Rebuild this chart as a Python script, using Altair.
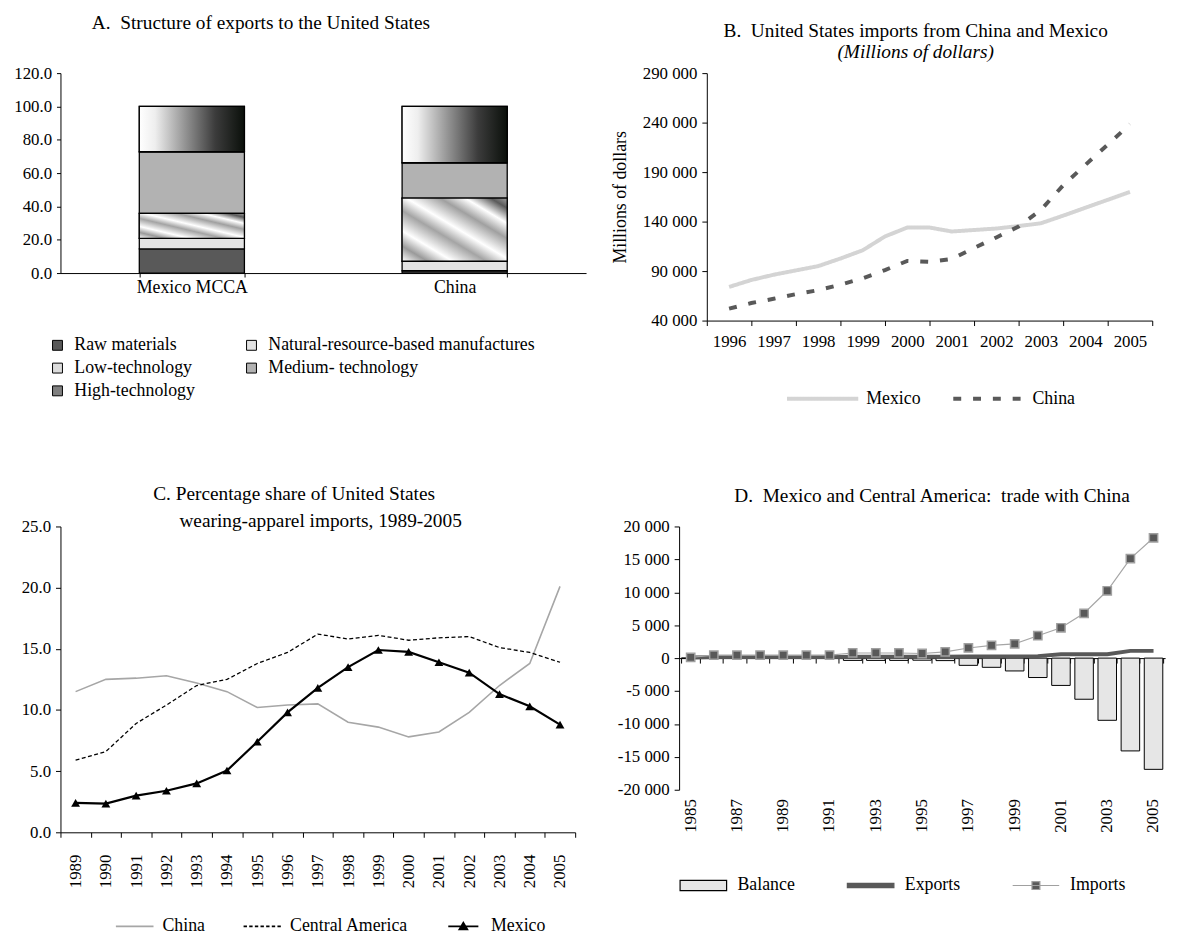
import altair as alt
import pandas as pd

FONT = "Liberation Serif"
BLACK = "#000000"

# ---------------- Panel A data ----------------
a_groups = ["Mexico MCCA", "China"]
a_categories = ["Raw materials", "Natural-resource-based manufactures",
                "Low-technology", "Medium- technology", "High-technology"]
a_mexico = [14.5, 6.3, 15.0, 37.0, 27.2]
a_china = [1.4, 5.7, 37.9, 21.2, 33.8]
a_legend_colors = ["#595959", "#e3e3e3", "#dcdcdc", "#b2b2b2", "#808080"]
a_ticks = [0, 20, 40, 60, 80, 100, 120]

# ---------------- Panel B data ----------------
b_years = [1996, 1996.5, 1997, 1997.5, 1998, 1998.5, 1999, 1999.5, 2000, 2000.5,
           2001, 2001.5, 2002, 2002.5, 2003, 2003.5, 2004, 2004.5, 2005]
b_mexico = [74000, 81000, 86300, 90700, 95000, 102700, 111000, 125000, 134000, 134000,
            130000, 131500, 133000, 135500, 138300, 146000, 154000, 162000, 170000]
b_china = [52000, 57700, 62000, 66700, 70700, 76300, 82700, 91000, 100300, 99300,
           102300, 113300, 124000, 135000, 151700, 176700, 197300, 217700, 238300]
b_series = ["Mexico", "China"]
b_tick_years = list(range(1996, 2007))
b_y_ticks = [40000, 90000, 140000, 190000, 240000, 290000]

# ---------------- Panel C data ----------------
c_years = list(range(1989, 2006))
c_china = [11.5, 12.5, 12.6, 12.8, 12.2, 11.5, 10.2, 10.4, 10.5, 9.0, 8.6, 7.8, 8.2, 9.8, 12.0, 13.8, 20.1]
c_central_america = [5.9, 6.6, 8.9, 10.4, 12.0, 12.5, 13.8, 14.7, 16.2, 15.8, 16.1, 15.7, 15.9, 16.0, 15.1, 14.7, 13.9]
c_mexico = [2.4, 2.35, 3.0, 3.4, 4.0, 5.05, 7.4, 9.8, 11.8, 13.5, 14.9, 14.75, 13.9, 13.05, 11.3, 10.3, 8.8]
c_series = ["China", "Central America", "Mexico"]
c_y_ticks = [0, 5, 10, 15, 20, 25]

# ---------------- Panel D data ----------------
d_years = list(range(1985, 2006))
d_balance = [0, -60, -60, -60, -60, -60, -60, -350, -350, -350, -320, -380,
             -1100, -1400, -1950, -2950, -4150, -6250, -9450, -14100, -16900]
d_exports = [100, 150, 150, 150, 150, 150, 150, 200, 200, 200, 200, 200,
             250, 250, 250, 300, 600, 600, 600, 1100, 1100]
d_imports = [100, 440, 440, 440, 440, 440, 440, 780, 780, 780, 700, 950,
             1540, 1930, 2170, 3400, 4610, 6810, 10230, 15120, 18280]
d_series = ["Balance", "Exports", "Imports"]
d_y_ticks = list(range(-20000, 20001, 5000))

SPACE_FMT = "(datum.value < 0 ? '-' : '') + replace(format(abs(datum.value), ','), ',', ' ')"
TICK_FS = 17
LEG_FS = 18
TITLE_FS = 19.5

INDEP = dict(color="independent", fill="independent", stroke="independent",
             shape="independent", strokeDash="independent")

# ======================= Panel A =======================
A_W, A_H = 531, 202
dfA = pd.DataFrame([
    {"group": g, "category": c, "order": i, "value": v}
    for g, vals in zip(a_groups, [a_mexico, a_china])
    for i, (c, v) in enumerate(zip(a_categories, vals))
])

a_x = alt.X("group:N", sort=a_groups,
            scale=alt.Scale(paddingInner=0.6, paddingOuter=0.3),
            axis=alt.Axis(title=None, labelAngle=0, tickBand="extent", tickSize=4,
                          labelPadding=2, labelFontSize=LEG_FS))
a_y = alt.Y("y0:Q", scale=alt.Scale(domain=[0, 120], nice=False),
            axis=alt.Axis(title=None, values=a_ticks, format=".1f", tickSize=4,
                          labelPadding=5, minExtent=51, labelFontSize=TICK_FS))
a_y2 = alt.Y2("y1:Q")

stacked = alt.Chart(dfA).transform_stack(
    stack="value", groupby=["group"], as_=["y0", "y1"],
    sort=[alt.SortField("order", order="ascending")])

a_base = stacked.mark_bar(stroke=BLACK, strokeWidth=1.3).encode(
    x=a_x, y=a_y, y2=a_y2,
    color=alt.Color("category:N", sort=a_categories,
                    scale=alt.Scale(domain=a_categories, range=a_legend_colors),
                    legend=alt.Legend(title=None, orient="none", legendX=-12, legendY=266,
                                      columns=2, direction="horizontal",
                                      symbolType="square", symbolSize=100,
                                      symbolStrokeColor=BLACK, symbolStrokeWidth=1,
                                      labelFontSize=LEG_FS, rowPadding=5, columnPadding=48,
                                      labelOffset=8, labelLimit=500)))

low_grad = alt.LinearGradient(
    gradient="linear", x1=0, y1=1, x2=1, y2=0,
    stops=[alt.GradientStop(color=c, offset=o) for o, c in [
        (0.0, "#ffffff"), (0.12, "#9a9a9a"), (0.24, "#ffffff"), (0.4, "#a4a4a4"),
        (0.52, "#ffffff"), (0.68, "#a0a0a0"), (0.8, "#ffffff"), (0.92, "#5a5a5a"),
        (1.0, "#a0a0a0")]])
high_grad = alt.LinearGradient(
    gradient="linear", x1=0, y1=0, x2=1, y2=0,
    stops=[alt.GradientStop(color=c, offset=o) for o, c in [
        (0.0, "#ffffff"), (0.15, "#eeeeee"), (0.45, "#8f8f8f"), (0.72, "#3c3c3c"),
        (1.0, "#0a0f0a")]])

a_low = stacked.transform_filter(alt.datum.category == "Low-technology").mark_bar(
    fill=low_grad, stroke=BLACK, strokeWidth=1.3).encode(x=a_x, y=a_y, y2=a_y2)
a_high = stacked.transform_filter(alt.datum.category == "High-technology").mark_bar(
    fill=high_grad, stroke=BLACK, strokeWidth=1.3).encode(x=a_x, y=a_y, y2=a_y2)

panelA = alt.layer(a_base, a_low, a_high).properties(
    width=A_W, height=A_H,
    title=alt.TitleParams(text="A.\u00a0 Structure of exports to the United States",
                          fontSize=TITLE_FS, anchor="middle", frame="group", dx=-63, offset=31))

# ======================= Panel B =======================
B_W, B_H = 450, 250
dfB = pd.DataFrame({
    "year": b_years * 2,
    "value": b_mexico + b_china,
    "series": ["Mexico"] * len(b_years) + ["China"] * len(b_years),
})
legB = alt.Legend(title=None, orient="none", legendX=79, legendY=291, direction="horizontal",
                  symbolType="stroke", symbolSize=5184, symbolStrokeWidth=4,
                  labelFontSize=LEG_FS, columnPadding=25, labelOffset=6, labelLimit=500)
panelB = alt.Chart(dfB).transform_calculate(xpos="datum.year + 0.5").mark_line(strokeWidth=4).encode(
    x=alt.X("xpos:Q", scale=alt.Scale(domain=[1996, 2006], nice=False, zero=False),
            axis=alt.Axis(title=None, values=b_tick_years, format="d",
                          labelExpr="datum.value < 2006 ? datum.label : ''",
                          labelOffset=22.5, labelFlush=False, labelOverlap=False,
                          tickSize=5, labelPadding=8, labelFontSize=TICK_FS)),
    y=alt.Y("value:Q", scale=alt.Scale(domain=[40000, 290000], nice=False, zero=False),
            axis=alt.Axis(title="Millions of dollars", values=b_y_ticks, labelExpr=SPACE_FMT,
                          tickSize=5, labelPadding=5, minExtent=70, titlePadding=8,
                          titleFontSize=LEG_FS, labelFontSize=TICK_FS)),
    color=alt.Color("series:N", scale=alt.Scale(domain=b_series, range=["#d4d4d4", "#595959"]),
                    legend=legB),
    strokeDash=alt.StrokeDash("series:N", scale=alt.Scale(domain=b_series, range=[[1, 0], [8, 12]]),
                              legend=legB),
).properties(
    width=B_W, height=B_H,
    title=alt.TitleParams(text=["", "B.\u00a0 United States imports from China and Mexico"],
                          subtitle="(Millions of dollars)", fontSize=TITLE_FS,
                          subtitleFontSize=TITLE_FS,
                          subtitleFontStyle="italic", lineHeight=8, anchor="middle",
                          frame="group", dx=-14, offset=2, subtitlePadding=2))

# ======================= Panel C =======================
C_W, C_H = 520, 309
dfC = pd.DataFrame({
    "year": c_years * 3,
    "value": c_china + c_central_america + c_mexico,
    "series": [s for s in c_series for _ in c_years],
})
c_x = alt.X("year:O", bandPosition=0.5,
            scale=alt.Scale(type="band", paddingInner=0, paddingOuter=0),
            axis=alt.Axis(title=None, labelAngle=270, tickBand="extent", tickSize=5,
                          labelPadding=17, labelFontSize=TICK_FS))
c_y = alt.Y("value:Q", scale=alt.Scale(domain=[0, 25], nice=False),
            axis=alt.Axis(title=None, values=c_y_ticks, format=".1f", tickSize=5,
                          labelPadding=5, minExtent=53, labelFontSize=TICK_FS))

c_line_china = alt.Chart(dfC).transform_filter(alt.datum.series == "China").mark_line(
    color="#a6a6a6", strokeWidth=1.6).encode(x=c_x, y=c_y)
c_line_ca = alt.Chart(dfC).transform_filter(alt.datum.series == "Central America").mark_line(
    color=BLACK, strokeWidth=1.3, strokeDash=[4, 2.5]).encode(x=c_x, y=c_y)
c_line_mx = alt.Chart(dfC).transform_filter(alt.datum.series == "Mexico").mark_line(
    color=BLACK, strokeWidth=2.2,
    point=alt.OverlayMarkDef(shape="triangle-up", filled=True, color=BLACK, size=80, opacity=1)
).encode(x=c_x, y=c_y)

c_paths = [
    "M-1,0L1,0",
    "M-1,0L-0.82,0M-0.7,0L-0.52,0M-0.4,0L-0.22,0M-0.1,0L0.08,0M0.2,0L0.38,0M0.5,0L0.68,0M0.8,0L0.98,0",
    "M-0.8,0L0.8,0M-0.22,0.17L0,-0.2L0.22,0.17Z",
]
legC = alt.Legend(title=None, orient="none", legendX=55, legendY=384, direction="horizontal",
                  symbolSize=1444, symbolStrokeWidth=1.6, labelFontSize=LEG_FS,
                  columnPadding=35, labelOffset=8, labelLimit=500)
c_legend_layer = alt.Chart(dfC).transform_filter("false").mark_point(
    filled=True, opacity=1, strokeWidth=1.6).encode(
    x=c_x, y=c_y,
    shape=alt.Shape("series:N", scale=alt.Scale(domain=c_series, range=c_paths), legend=legC),
    fill=alt.Fill("series:N", scale=alt.Scale(domain=c_series, range=["#a6a6a6", BLACK, BLACK]),
                  legend=legC),
    stroke=alt.Stroke("series:N", scale=alt.Scale(domain=c_series, range=["#a6a6a6", BLACK, BLACK]),
                      legend=legC),
)

panelC = alt.layer(c_line_china, c_line_ca, c_line_mx, c_legend_layer).properties(
    width=C_W, height=C_H,
    title=alt.TitleParams(
        text=["", "C. Percentage share of United States"],
        subtitle="\u200b" + "\u00a0" * 11 + "wearing-apparel imports, 1989-2005",
        fontSize=TITLE_FS, subtitleFontSize=TITLE_FS, subtitlePadding=8, lineHeight=22,
        anchor="middle", frame="group", dx=-24, offset=-14))

# ======================= Panel D =======================
D_W, D_H = 491, 266
dfD = pd.DataFrame({"year": d_years, "balance": d_balance,
                    "exports": d_exports, "imports": d_imports})
d_scale_x = alt.Scale(type="band", paddingInner=0.2, paddingOuter=0.1)
d_scale_y = alt.Scale(domain=[-20000, 20000], nice=False)
d_y_axis = alt.Axis(title=None, values=d_y_ticks, labelExpr=SPACE_FMT, tickSize=5,
                    labelPadding=5, minExtent=67, labelFontSize=TICK_FS)

d_bars = alt.Chart(dfD).mark_bar(fill="#e6e6e6", stroke=BLACK, strokeWidth=1).encode(
    x=alt.X("year:O", scale=d_scale_x,
            axis=alt.Axis(title=None, orient="bottom", domain=False, ticks=False, tickSize=0,
                          labelAngle=270, labelPadding=9, labelFontSize=TICK_FS,
                          labelExpr="datum.value % 2 == 1 ? datum.label : ''")),
    y=alt.Y("balance:Q", scale=d_scale_y, axis=d_y_axis),
)
d_exports_line = alt.Chart(dfD).mark_line(color="#595959", strokeWidth=4).encode(
    x=alt.X("year:O", scale=d_scale_x, bandPosition=0.5,
            axis=alt.Axis(title=None, orient="bottom", offset=-D_H / 2, labels=False,
                          domain=True, ticks=True, tickBand="extent", tickSize=5)),
    y=alt.Y("exports:Q", scale=d_scale_y, axis=d_y_axis),
)
d_imports_line = alt.Chart(dfD).mark_line(
    color="#a6a6a6", strokeWidth=1.2,
    point=alt.OverlayMarkDef(shape="square", filled=True, fill="#595959", stroke="#a0a0a0",
                             strokeWidth=1.5, size=70, opacity=1)
).encode(
    x=alt.X("year:O", scale=d_scale_x, bandPosition=0.5, axis=None),
    y=alt.Y("imports:Q", scale=d_scale_y, axis=d_y_axis),
)
d_paths = [
    "M-1,-0.22L1,-0.22L1,0.22L-1,0.22Z",
    "M-1,-0.09L1,-0.09L1,0.09L-1,0.09Z",
    "M-1,0L1,0M-0.17,-0.17L0.17,-0.17L0.17,0.17L-0.17,0.17Z",
]
legD = alt.Legend(title=None, orient="none", legendX=0, legendY=338, direction="horizontal",
                  symbolSize=2209, symbolStrokeWidth=1.2, labelFontSize=LEG_FS,
                  columnPadding=50, labelOffset=10, labelLimit=500)
d_legend_layer = alt.Chart(dfD).transform_fold(
    ["balance", "exports", "imports"], as_=["key", "v"]
).transform_calculate(
    series="datum.key == 'balance' ? 'Balance' : (datum.key == 'exports' ? 'Exports' : 'Imports')"
).transform_filter("false").mark_point(filled=True, opacity=1, strokeWidth=1.2).encode(
    x=alt.X("year:O", scale=d_scale_x, axis=None),
    y=alt.Y("v:Q", scale=d_scale_y, axis=d_y_axis),
    shape=alt.Shape("series:N", scale=alt.Scale(domain=d_series, range=d_paths), legend=legD),
    fill=alt.Fill("series:N", scale=alt.Scale(domain=d_series, range=["#e6e6e6", "#595959", "#595959"]),
                  legend=legD),
    stroke=alt.Stroke("series:N", scale=alt.Scale(domain=d_series, range=[BLACK, "#595959", "#a0a0a0"]),
                      legend=legD),
)

panelD = alt.layer(d_bars, d_exports_line, d_imports_line, d_legend_layer).resolve_axis(
    x="independent", y="shared").properties(
    width=D_W, height=D_H,
    title=alt.TitleParams(text="D.\u00a0 Mexico and Central America:\u00a0 trade with China",
                          fontSize=TITLE_FS, anchor="middle", frame="group", dx=10,
                          offset=11))

# ======================= Assemble =======================
row1 = alt.hconcat(panelA, panelB, spacing=26).resolve_scale(**INDEP)
row2 = alt.hconcat(panelC, panelD, spacing=37).resolve_scale(**INDEP)
chart = alt.vconcat(row1, row2, spacing=55).resolve_scale(**INDEP).properties(
    padding={"left": 0, "top": 0, "right": 0, "bottom": 0},
    background="white",
).configure(font=FONT).configure_view(stroke=None).configure_axis(
    labelFont=FONT, titleFont=FONT, labelColor=BLACK, titleColor=BLACK,
    domainColor=BLACK, tickColor=BLACK, titleFontWeight="normal", grid=False,
    domainWidth=1, tickWidth=1,
).configure_legend(labelFont=FONT, labelColor=BLACK, labelLimit=500).configure_title(
    font=FONT, fontWeight="normal", color=BLACK, subtitleFont=FONT, subtitleColor=BLACK)

chart.save("out.html", embed_options={"renderer": "svg", "actions": False})
